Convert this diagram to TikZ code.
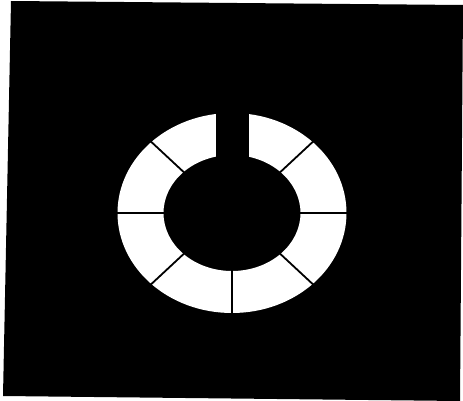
\documentclass[tikz,border=0pt]{standalone}
\usetikzlibrary{calc}
\begin{document}
\begin{tikzpicture}[x=1pt, y=-1pt, divider/.style={black, line width=1.8pt}]
  \useasboundingbox (0,0) rectangle (463,401);
  \coordinate (c) at (232,213);
  % dark plate
  \fill[black] (11,1) -- (463,5) -- (460,401) -- (3,396) -- cycle;
  % white ring
  \fill[white, even odd rule] (c) ellipse [x radius=114.5, y radius=100]
                              (c) ellipse [x radius=68.5, y radius=58];
  % slot at the top
  \fill[black] (216,108) rectangle (249,165);
  % dividers (y points down, so 90 is the bottom one)
  \foreach \a in {0,45,90,135,180,225,315}
    \draw[divider] ($(c)+(\a:62 and 52)$) -- ($(c)+(\a:120 and 106)$);
\end{tikzpicture}
\end{document}
